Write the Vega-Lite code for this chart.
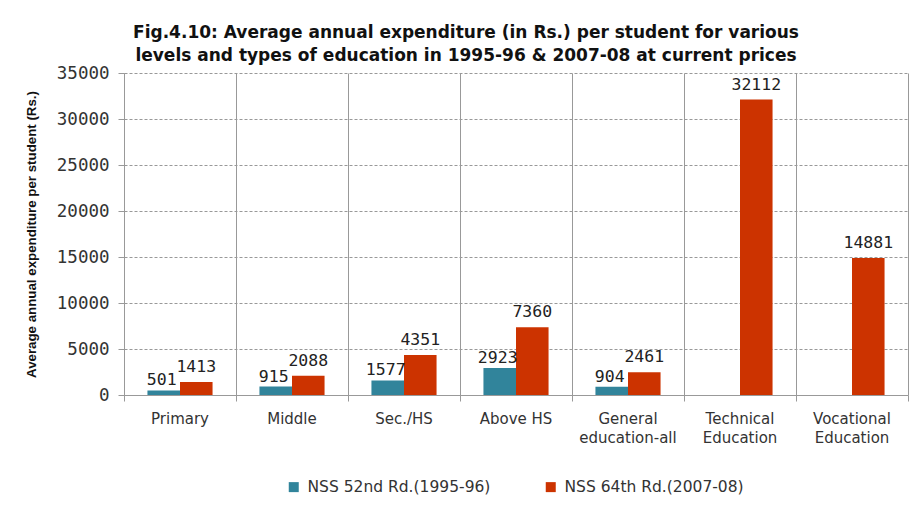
{
  "$schema": "https://vega.github.io/schema/vega-lite/v6.json",
  "width": 784,
  "height": 322,
  "autosize": {"type": "none"},
  "padding": {"left": 124, "top": 73, "right": 10, "bottom": 113},
  "background": "white",
  "config": {"view": {"stroke": null}},
  "title": {
    "text": ["Fig.4.10: Average annual expenditure (in Rs.) per student for various", "levels and types of education in 1995-96 & 2007-08 at current prices"],
    "anchor": "middle",
    "dx": -50,
    "font": "DejaVu Sans",
    "fontWeight": "bold",
    "fontSize": 17,
    "lineHeight": 23,
    "offset": -1,
    "color": "#111"
  },
  "data": {
    "values": [
      {"category": "Primary", "series": "NSS 52nd Rd.(1995-96)", "value": 501},
      {"category": "Primary", "series": "NSS 64th Rd.(2007-08)", "value": 1413},
      {"category": "Middle", "series": "NSS 52nd Rd.(1995-96)", "value": 915},
      {"category": "Middle", "series": "NSS 64th Rd.(2007-08)", "value": 2088},
      {"category": "Sec./HS", "series": "NSS 52nd Rd.(1995-96)", "value": 1577},
      {"category": "Sec./HS", "series": "NSS 64th Rd.(2007-08)", "value": 4351},
      {"category": "Above HS", "series": "NSS 52nd Rd.(1995-96)", "value": 2923},
      {"category": "Above HS", "series": "NSS 64th Rd.(2007-08)", "value": 7360},
      {"category": "General|education-all", "series": "NSS 52nd Rd.(1995-96)", "value": 904},
      {"category": "General|education-all", "series": "NSS 64th Rd.(2007-08)", "value": 2461},
      {"category": "Technical|Education", "series": "NSS 64th Rd.(2007-08)", "value": 32112},
      {"category": "Vocational|Education", "series": "NSS 64th Rd.(2007-08)", "value": 14881}
    ]
  },
  "encoding": {
    "x": {
      "field": "category",
      "type": "nominal",
      "sort": null,
      "scale": {"paddingInner": 0, "paddingOuter": 0},
      "axis": {
        "title": null,
        "labelAngle": 0,
        "labelExpr": "split(datum.label, '|')",
        "labelFont": "DejaVu Sans",
        "labelFontSize": 15,
        "labelColor": "#333",
        "labelLineHeight": 19,
        "labelPadding": 10,
        "labelBaseline": "top",
        "bandPosition": 1,
        "tickExtra": true,
        "tickSize": 6,
        "tickColor": "#999",
        "domainColor": "#999",
        "grid": true,
        "gridColor": "#999",
        "gridWidth": 1
      }
    },
    "y": {
      "field": "value",
      "type": "quantitative",
      "scale": {"domain": [0, 35000]},
      "axis": {
        "title": "Average annual expenditure per student (Rs.)",
        "titleFont": "Liberation Sans",
        "titleFontSize": 13.3,
        "titleFontWeight": "bold",
        "titleColor": "#111",
        "titlePadding": 18,
        "values": [0, 5000, 10000, 15000, 20000, 25000, 30000, 35000],
        "format": "d",
        "labelFont": "DejaVu Sans Mono",
        "labelFontSize": 17.5,
        "labelColor": "#333",
        "labelPadding": 9,
        "tickSize": 6,
        "tickColor": "#999",
        "domainColor": "#999",
        "grid": true,
        "gridColor": "#999",
        "gridDash": [3, 2]
      }
    },
    "xOffset": {
      "field": "series",
      "scale": {"domain": ["NSS 52nd Rd.(1995-96)", "NSS 64th Rd.(2007-08)"], "paddingInner": 0, "paddingOuter": 0.72}
    }
  },
  "layer": [
    {
      "mark": {"type": "bar"},
      "encoding": {
        "color": {
          "field": "series",
          "type": "nominal",
          "scale": {"domain": ["NSS 52nd Rd.(1995-96)", "NSS 64th Rd.(2007-08)"], "range": ["#31849B", "#CC3300"]},
          "legend": {
            "title": null,
            "orient": "none",
            "direction": "horizontal",
            "legendX": 162,
            "legendY": 406,
            "symbolType": "square",
            "symbolSize": 100,
            "labelFont": "DejaVu Sans",
            "labelFontSize": 15.5,
            "labelLimit": 0,
            "labelColor": "#333",
            "columnPadding": 52,
            "labelOffset": 6
          }
        }
      }
    },
    {
      "transform": [{"filter": "datum.series == 'NSS 52nd Rd.(1995-96)'"}],
      "mark": {"type": "text", "dy": -5, "baseline": "alphabetic", "font": "DejaVu Sans Mono", "fontSize": 16.5, "color": "#222", "dx": -2},
      "encoding": {"text": {"field": "value", "type": "quantitative", "format": "d"}}
    },
    {
      "transform": [{"filter": "datum.series == 'NSS 64th Rd.(2007-08)'"}],
      "mark": {"type": "text", "dy": -10, "baseline": "alphabetic", "font": "DejaVu Sans Mono", "fontSize": 16.5, "color": "#222"},
      "encoding": {"text": {"field": "value", "type": "quantitative", "format": "d"}}
    }
  ]
}
